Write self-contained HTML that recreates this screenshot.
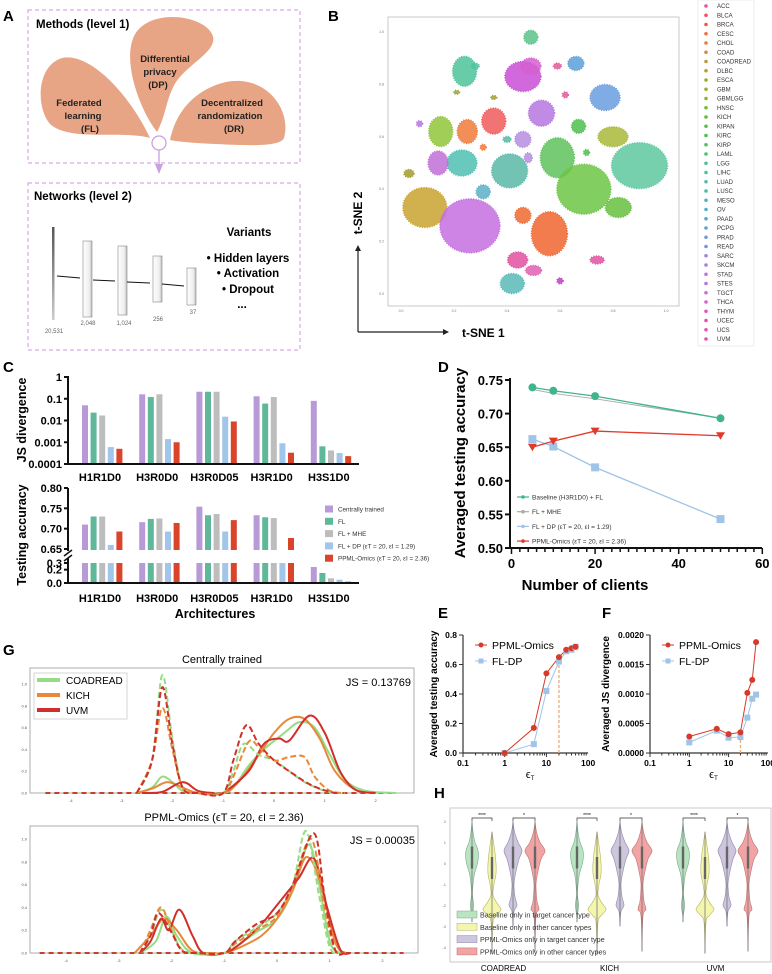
<!DOCTYPE html>
<html><head><meta charset="utf-8"><style>
html,body{margin:0;padding:0;background:#fff}
svg{display:block;font-family:"Liberation Sans",sans-serif}
.b{font-weight:bold}
</style></head><body>
<svg id="fig" width="772" height="974" viewBox="0 0 772 974" xmlns="http://www.w3.org/2000/svg">
<defs>
<linearGradient id="gbar" x1="0" x2="0" y1="0" y2="1"><stop offset="0" stop-color="#555"/><stop offset="1" stop-color="#ccc"/></linearGradient>
<linearGradient id="gblk" x1="0" x2="1"><stop offset="0" stop-color="#fff"/><stop offset="0.7" stop-color="#eee"/><stop offset="1" stop-color="#bbb"/></linearGradient>
</defs>
<!-- Panel A -->
<g>
<text x="3" y="21" class="b" font-size="15">A</text>
<rect x="28" y="10" width="272" height="153" fill="none" stroke="#d9a6e6" stroke-width="1.2" stroke-dasharray="4,3"/>
<rect x="28" y="183" width="272" height="167" fill="none" stroke="#d9a6e6" stroke-width="1.2" stroke-dasharray="4,3"/>
<text x="36" y="28" class="b" font-size="11.5">Methods (level 1)</text>
<path d="M150,138 C130,95 90,52 62,58 C36,66 36,108 50,124 C70,142 120,130 150,138Z" fill="#e8a585"/>
<path d="M157,132 C140,110 122,62 134,36 C148,8 202,14 212,34 C220,50 190,62 176,82 C166,98 166,116 157,132Z" fill="#e8a585"/>
<path d="M170,140 C175,115 192,90 226,82 C266,74 292,110 284,138 C280,148 240,145 215,144 C195,143 180,142 170,140Z" fill="#e8a585"/>
<g class="b" font-size="9.5" text-anchor="middle" fill="#222">
<text x="165" y="62"><tspan x="165">Differential</tspan><tspan x="160" dy="13">privacy</tspan><tspan x="158" dy="13">(DP)</tspan></text>
<text x="79" y="106"><tspan x="79">Federated</tspan><tspan x="83" dy="13">learning</tspan><tspan x="90" dy="13">(FL)</tspan></text>
<text x="232" y="106"><tspan x="232">Decentralized</tspan><tspan x="230" dy="13">randomization</tspan><tspan x="234" dy="13">(DR)</tspan></text>
</g>
<circle cx="159" cy="143" r="7" fill="#fff" stroke="#c9a0e0" stroke-width="1.3"/>
<line x1="159" y1="150" x2="159" y2="168" stroke="#c9a0e0" stroke-width="1.3"/>
<path d="M155,164 L159,174 L163,164Z" fill="#c9a0e0"/>
<text x="34" y="200" class="b" font-size="11.5">Networks (level 2)</text>
<rect x="52" y="227" width="2.5" height="93" fill="url(#gbar)"/>
<g stroke="#888" stroke-width="0.6" fill="url(#gblk)">
<rect x="83" y="241" width="9" height="76"/>
<rect x="118" y="246" width="9" height="69"/>
<rect x="153" y="256" width="9" height="46"/>
<rect x="187" y="268" width="9" height="37"/>
</g>
<g stroke="#111" stroke-width="1">
<line x1="57" y1="276" x2="80" y2="278"/>
<line x1="93" y1="280" x2="115" y2="281"/>
<line x1="127" y1="282" x2="150" y2="283"/>
<line x1="162" y1="284" x2="184" y2="286"/>
</g>
<g font-size="6" fill="#666" text-anchor="middle">
<text x="54" y="333">20,531</text>
<text x="88" y="325">2,048</text>
<text x="124" y="325">1,024</text>
<text x="158" y="321">256</text>
<text x="193" y="314">37</text>
</g>
<g class="b" font-size="11.5" text-anchor="middle">
<text x="249" y="236">Variants</text>
<text x="248" y="262">• Hidden layers</text>
<text x="248" y="277">• Activation</text>
<text x="248" y="293">• Dropout</text>
<text x="242" y="308">...</text>
</g>
</g>
<!-- static panel labels -->
<g class="b" font-size="15">
<text x="328" y="21">B</text>
<text x="3" y="372">C</text>
<text x="438" y="372">D</text>
<text x="438" y="618">E</text>
<text x="602" y="618">F</text>
<text x="3" y="655">G</text>
<text x="434" y="798">H</text>
</g>
</svg>
<script>
const NS='http://www.w3.org/2000/svg';
const svg=document.getElementById('fig');
function mk(tag,attrs,parent){const e=document.createElementNS(NS,tag);for(const k in attrs)e.setAttribute(k,attrs[k]);(parent||svg).appendChild(e);return e;}
function tx(x,y,s,attrs){const e=mk('text',Object.assign({x:x,y:y},attrs||{}));e.textContent=s;return e;}

/* ---------- Panel B data ---------- */
const tsneU=[0.49,0.24,0.28,0.46,0.49,0.59,0.66,0.77,0.21,0.35,0.62,0.53,0.35,0.15,0.25,0.07,0.67,0.46,0.31,0.59,0.80,0.90,0.41,0.23,0.14,0.48,0.70,0.69,0.03,0.09,0.26,0.46,0.56,0.82,0.31,0.44,0.50,0.42,0.60,0.74,0.40];
const tsneV=[0.98,0.85,0.87,0.83,0.87,0.87,0.88,0.75,0.77,0.75,0.76,0.69,0.66,0.62,0.62,0.65,0.64,0.59,0.56,0.52,0.60,0.49,0.47,0.50,0.50,0.52,0.54,0.40,0.46,0.33,0.26,0.30,0.23,0.33,0.39,0.13,0.09,0.04,0.05,0.13,0.59];
const tsneRx=[7,12,4,18,10,4,8,15,3,3,3,13,12,12,10,3,7,8,3,17,15,28,18,15,10,4,3,27,5,22,30,8,18,13,7,10,8,12,3,7,4];
const tsneRy=[7,15,3,15,8,3,7,13,2,2,3,13,13,15,12,3,7,8,3,20,10,23,17,13,12,5,3,25,4,20,27,8,22,10,7,8,5,10,3,4,3];
const tsneCol=['#5cc38a','#4fc39a','#4fc3a0','#c94fd6','#d55fcf','#e05a9a','#5aa0d8','#6a9de0','#9aa53a','#a0a030','#e05a9a','#b576e0','#f05a5a','#8fc63a','#f07a3a','#b576e0','#4fc050','#b58ee0','#f07a3a','#5ec25c','#a8b83a','#5ec8a0','#5ab8a8','#4fbfb0','#c070d8','#b58ee0','#4fc050','#6cc544','#a89a30','#c9a32e','#c46ee0','#f06a30','#f0652f','#66c040','#5ab0c8','#e050a0','#e060b0','#5ab8b8','#c040c0','#e050a0','#5ab8a8'];
const cancerTypes=['ACC','BLCA','BRCA','CESC','CHOL','COAD','COADREAD','DLBC','ESCA','GBM','GBMLGG','HNSC','KICH','KIPAN','KIRC','KIRP','LAML','LGG','LIHC','LUAD','LUSC','MESO','OV','PAAD','PCPG','PRAD','READ','SARC','SKCM','STAD','STES','TGCT','THCA','THYM','UCEC','UCS','UVM'];
const cancerCols=['#e8559a','#f0505a','#f05a48','#f0703a','#e8803a','#d08a40','#c09a38','#b0a030','#a0a830','#98b030','#88b830','#78bc30','#60c030','#50c040','#50c050','#50c060','#50c078','#50c090','#50c0a0','#50bcb0','#50b8b8','#50b4c0','#50b0c8','#50a8d0','#60a0d8','#7098e0','#8090e0','#9888e0','#a880e0','#b878e0','#c070e0','#d068d8','#d860d0','#e058c0','#e055b0','#e855a8','#e855a0'];
const bx=u=>401+265*u, by=v=>294-262*v;
mk('rect',{x:388,y:17,width:291,height:289,fill:'#fff',stroke:'#bbb','stroke-width':0.8});


for(let i=0;i<tsneU.length;i++){
  const e=mk('ellipse',{cx:bx(tsneU[i]),cy:by(tsneV[i]),rx:tsneRx[i],ry:tsneRy[i],fill:tsneCol[i],'fill-opacity':0.85,stroke:tsneCol[i],'stroke-width':1.5,'stroke-dasharray':'1,1.5'});
  
  
}
const tsneTicks=[0,0.2,0.4,0.6,0.8,1.0];
tsneTicks.forEach(t=>{
  const a=tx(bx(t),312,t.toFixed(1),{'font-size':3.5,'text-anchor':'middle',fill:'#777'});
  
  
  const b=tx(384,by(t)+1,t.toFixed(1),{'font-size':3.5,'text-anchor':'end',fill:'#777'});
  
  
});
let ar=mk('path',{d:'M358,332 L358,250 M358,332 L444,332',stroke:'#222','stroke-width':1.2,fill:'none'});


ar=mk('path',{d:'M355,251 L358,245 L361,251Z M443,329 L449,332 L443,335Z',fill:'#222'});


let t=tx(462,337,'t-SNE 1',{'font-size':12,'font-weight':'bold'});


t=tx(0,0,'t-SNE 2',{'font-size':12,'font-weight':'bold','text-anchor':'middle',transform:'translate(362,213) rotate(-90)'});


let lg=mk('rect',{x:698,y:0,width:56,height:346,fill:'#fff',stroke:'#eee'});


cancerTypes.forEach((c,i)=>{
  const y=6+i*9.25;
  const d=mk('circle',{cx:706,cy:y,r:1.8,fill:cancerCols[i]});
  
  
  const l=tx(717,y+2.2,c,{'font-size':6,fill:'#333'});
  
  
});

/* ---------- Panel C data ---------- */
const archs=['H1R1D0','H3R0D0','H3R0D05','H3R1D0','H3S1D0'];
const methodsC=['Centrally trained','FL','FL + MHE','FL + DP (ε','PPML-Omics (ε'];
const colsC=['#b99ad8','#5fb89a','#bdbdbd','#a2c6ea','#d9442b'];
const jsCentral=[0.05,0.16,0.21,0.13,0.08];
const jsFL=[0.023,0.12,0.21,0.06,0.00065];
const jsMHE=[0.017,0.16,0.21,0.12,0.00042];
const jsDP=[0.0006,0.0014,0.015,0.0009,0.00032];
const jsPPML=[0.0005,0.001,0.009,0.00033,0.00023];
const accCentral=[0.71,0.716,0.754,0.733,0.24];
const accFL=[0.73,0.724,0.733,0.728,0.15];
const accMHE=[0.73,0.725,0.736,0.726,0.07];
const accDP=[0.66,0.693,0.693,0.65,0.05];
const accPPML=[0.693,0.714,0.721,0.677,0.02];
const jsTicks=[1,0.1,0.01,0.001,0.0001];
const accTicksHi=[0.80,0.75,0.70,0.65];
const accTicksLo=[0.3,0.2,0.0];
const groupX=i=>100+i*57.2;
const barX=(g,k)=>groupX(g)-18+k*8.6;
const jsY=v=>464-(Math.log10(v)+4)*21.75;
const accHiY=v=>549-(v-0.65)/0.15*61;
const accLoY=v=>583-Math.min(v,0.3)/0.3*20;
const jsSeries=[jsCentral,jsFL,jsMHE,jsDP,jsPPML];
const accSeries=[accCentral,accFL,accMHE,accDP,accPPML];
for(let g=0;g<archs.length;g++){
  for(let k=0;k<5;k++){
    const v=jsSeries[k][g];
    const r=mk('rect',{x:barX(g,k),y:jsY(v),width:6,height:464-jsY(v),fill:colsC[k]});
    
    
    const a=accSeries[k][g];
    if(a>0.65){
      const r2=mk('rect',{x:barX(g,k),y:accHiY(a),width:6,height:550-accHiY(a),fill:colsC[k]});
      
      
    }
    const r3=mk('rect',{x:barX(g,k),y:accLoY(a),width:6,height:583-accLoY(a),fill:colsC[k]});
    
    
  }
  const l1=tx(groupX(g),481,archs[g],{'font-size':11,'font-weight':'bold','text-anchor':'middle'});
  
  
  const l2=tx(groupX(g),602,archs[g],{'font-size':11,'font-weight':'bold','text-anchor':'middle'});
  
  
}
let ax=mk('path',{d:'M68,376 L68,464 L359,464 M68,488 L68,551 M68,558 L68,583 L359,583',stroke:'#111','stroke-width':2,fill:'none'});


ax=mk('path',{d:'M64,556 L72,550 M64,561 L72,555',stroke:'#111','stroke-width':1.5});


jsTicks.forEach(v=>{
  const l=mk('line',{x1:64,x2:68,y1:jsY(v),y2:jsY(v),stroke:'#111','stroke-width':2});
  
  
  const s=tx(62,jsY(v)+4,String(v),{'font-size':11,'font-weight':'bold','text-anchor':'end'});
  
  
});
accTicksHi.forEach(v=>{
  const l=mk('line',{x1:64,x2:68,y1:accHiY(v),y2:accHiY(v),stroke:'#111','stroke-width':2});
  
  
  const s=tx(62,accHiY(v)+4,v.toFixed(2),{'font-size':11,'font-weight':'bold','text-anchor':'end'});
  
  
});
accTicksLo.forEach(v=>{
  const l=mk('line',{x1:64,x2:68,y1:accLoY(v),y2:accLoY(v),stroke:'#111','stroke-width':2});
  
  
  const s=tx(62,accLoY(v)+4,v.toFixed(1),{'font-size':11,'font-weight':'bold','text-anchor':'end'});
  
  
});
t=tx(0,0,'JS divergence',{'font-size':12.5,'font-weight':'bold','text-anchor':'middle',transform:'translate(26,420) rotate(-90)'});


t=tx(0,0,'Testing accuracy',{'font-size':12.5,'font-weight':'bold','text-anchor':'middle',transform:'translate(26,535) rotate(-90)'});


t=tx(215,618,'Architectures',{'font-size':12.5,'font-weight':'bold','text-anchor':'middle'});


const legC=['Centrally trained','FL','FL + MHE','FL + DP (εT = 20, εI = 1.29)','PPML-Omics (εT = 20, εI = 2.36)'];
legC.forEach((s,i)=>{
  const y=509+i*12.3;
  const r=mk('rect',{x:325,y:y-3.5,width:8,height:7,fill:colsC[i]});
  
  
  const l=tx(338,y+2.5,s,{'font-size':6.3,fill:'#333'});
  
  
});

/* ---------- Panel D data ---------- */
const clients=[5,10,20,50];
const dBaseline=[0.739,0.734,0.726,0.693];
const dMHE=[0.736,0.730,0.722,0.693];
const dDP=[0.662,0.651,0.620,0.543];
const dPPML=[0.650,0.659,0.674,0.667];
const dYTicks=[0.75,0.70,0.65,0.60,0.55,0.50];
const dXTicks=[0,20,40,60];
const dx=c=>511.5+c*4.18, dy=v=>548-(v-0.5)*672;
ax=mk('path',{d:'M510,378 L510,548 L762,548',stroke:'#111','stroke-width':2,fill:'none'});


for(let c=0;c<=60;c+=2){
  const l=mk('line',{x1:dx(c),x2:dx(c),y1:548,y2:c%20===0?554:552,stroke:'#111','stroke-width':1.5});
  
  
}
dXTicks.forEach(c=>{
  const s=tx(dx(c),568,String(c),{'font-size':13,'font-weight':'bold','text-anchor':'middle'});
  
  
});
dYTicks.forEach(v=>{
  const l=mk('line',{x1:505,x2:510,y1:dy(v),y2:dy(v),stroke:'#111','stroke-width':2});
  
  
  const s=tx(503,dy(v)+5,v.toFixed(2),{'font-size':13,'font-weight':'bold','text-anchor':'end'});
  
  
});
function polyline(xs,ys,fx,fy,col,w,name){
  const p=mk('polyline',{points:xs.map((x,i)=>fx(x)+','+fy(ys[i])).join(' '),fill:'none',stroke:col,'stroke-width':w});
  
  
}
polyline(clients,dMHE,dx,dy,'#aaa',1,'line-fl-mhe');
polyline(clients,dBaseline,dx,dy,'#3fb58a',1.3,'line-baseline-fl');
polyline(clients,dDP,dx,dy,'#9fc4e8',1.3,'line-fl-dp');
polyline(clients,dPPML,dx,dy,'#e03a2a',1.3,'line-ppml-omics');
clients.forEach((c,i)=>{
  let m=mk('circle',{cx:dx(c),cy:dy(dBaseline[i]),r:4,fill:'#3fb58a'});
  
  
  m=mk('rect',{x:dx(c)-4,y:dy(dDP[i])-4,width:8,height:8,fill:'#9fc4e8'});
  
  
  const X=dx(c),Y=dy(dPPML[i]);
  m=mk('path',{d:`M${X-4.5},${Y-3.5} L${X+4.5},${Y-3.5} L${X},${Y+4}Z`,fill:'#e03a2a'});
  
  
});
const legD=['Baseline (H3R1D0) + FL','FL + MHE','FL + DP (εT = 20, εI = 1.29)','PPML-Omics (εT = 20, εI = 2.36)'];
const legDCol=['#3fb58a','#aaa','#9fc4e8','#e03a2a'];
legD.forEach((s,i)=>{
  const y=497+i*14.7;
  const l=mk('line',{x1:517,x2:529,y1:y,y2:y,stroke:legDCol[i],'stroke-width':1.2});
  
  
  const c=mk('circle',{cx:523,cy:y,r:1.8,fill:legDCol[i]});
  
  
  const q=tx(532,y+2.5,s,{'font-size':6.5,fill:'#333'});
  
  
});
t=tx(0,0,'Averaged testing accuracy',{'font-size':15,'font-weight':'bold','text-anchor':'middle',transform:'translate(465,463) rotate(-90)'});


t=tx(585,590,'Number of clients',{'font-size':15,'font-weight':'bold','text-anchor':'middle'});



/* ---------- Panels E & F data ---------- */
const epsT=[1,5,10,20,30,40,50];
const eAccPPML=[0.0,0.17,0.54,0.65,0.70,0.71,0.72];
const eAccDP=[0.0,0.06,0.42,0.62,0.69,0.70,0.72];
const fJsPPML=[0.00028,0.00041,0.00032,0.00035,0.00102,0.00124,0.00188];
const fJsDP=[0.00018,0.00038,0.00026,0.00027,0.0006,0.00092,0.00099];
const eYTicks=[0.0,0.2,0.4,0.6,0.8];
const fYTicks=[0.0,0.0005,0.0010,0.0015,0.0020];
const logTicks=[0.1,1,10,100];
function logPanel(x0,dec,yfun,yTicks,yfmt,s1,s2,ytitle,pref,tx0){
  const X=e=>x0+(Math.log10(e)+1)*dec;
  const y0=yfun(0);
  const a=mk('path',{d:`M${x0},${yfun(yTicks[yTicks.length-1])} L${x0},${y0} L${X(100)},${y0}`,stroke:'#333','stroke-width':1.2,fill:'none'});
  
  
  for(let d=-1;d<2;d++)for(let m=1;m<10;m++){
    const xv=X(m*Math.pow(10,d));
    const l=mk('line',{x1:xv,x2:xv,y1:y0,y2:y0+(m===1?4:2.5),stroke:'#333','stroke-width':1});
    
    
  }
  logTicks.forEach(v=>{
    const s=tx(X(v),y0+13,String(v),{'font-size':8.5,'font-weight':'bold','text-anchor':'middle'});
    
    
  });
  yTicks.forEach(v=>{
    const l=mk('line',{x1:x0-4,x2:x0,y1:yfun(v),y2:yfun(v),stroke:'#333','stroke-width':1});
    
    
    const s=tx(x0-6,yfun(v)+3,yfmt(v),{'font-size':8.5,'font-weight':'bold','text-anchor':'end'});
    
    
  });
  const dl=mk('line',{x1:X(20),x2:X(20),y1:y0,y2:yfun(s1[3]),stroke:'#f0a878','stroke-width':1.3,'stroke-dasharray':'3,2'});
  
  
  polyline(epsT,s2,X,yfun,'#9fc4e8',1,pref+'-line-fl-dp');
  polyline(epsT,s1,X,yfun,'#d63a2a',1,pref+'-line-ppml');
  epsT.forEach((e,i)=>{
    let m=mk('rect',{x:X(e)-3,y:yfun(s2[i])-3,width:6,height:6,fill:'#9fc4e8'});
    
    
    m=mk('circle',{cx:X(e),cy:yfun(s1[i]),r:3,fill:'#d63a2a'});
    
    
  });
  const lx=x0+12, ly=yfun(yTicks[yTicks.length-1])+10;
  [['PPML-Omics','#d63a2a'],['FL-DP','#9fc4e8']].forEach((p,i)=>{
    const l=mk('line',{x1:lx,x2:lx+12,y1:ly+i*16,y2:ly+i*16,stroke:p[1],'stroke-width':1});
    
    
    const c=i===0?mk('circle',{cx:lx+6,cy:ly,r:2.5,fill:p[1]}):mk('rect',{x:lx+3.5,y:ly+16-2.5,width:5,height:5,fill:p[1]});
    
    
    const s=tx(lx+17,ly+4+i*16,p[0],{'font-size':10.5});
    
    
  });
  const ti=tx(0,0,ytitle,{'font-size':10,'font-weight':'bold','text-anchor':'middle',transform:`translate(${tx0},694) rotate(-90)`});
  
  
  const xt=tx(X(3.2),778,'ϵ',{'font-size':11});
  
  
  const xs=tx(X(3.2)+5,780,'T',{'font-size':6});
  
  
}
logPanel(463,41.7,v=>753-v*147.5,eYTicks,v=>v.toFixed(1),eAccPPML,eAccDP,'Averaged testing accuracy','e',437);
logPanel(650,39.3,v=>753-v*59000,fYTicks,v=>v.toFixed(4),fJsPPML,fJsDP,'Averaged JS divergence','f',609);

/* ---------- Panel G data ---------- */
const gTopCoadSolidX=[-2.7,-2.4,-2.2,-2.0,-1.8,-1.5,-1.0,-0.8,-0.5,-0.2,0.2,0.5,0.8,1.1,1.4,1.8,2.4];
const gTopCoadSolidY=[0,0.05,0.15,0.10,0.02,0,0,0.05,0.25,0.4,0.55,0.65,0.6,0.35,0.12,0.02,0];
const gTopCoadDashX=[-2.7,-2.4,-2.2,-2.0,-1.8,-1.5,-1.0,-0.8,-0.6,-0.3,0,0.3,0.6,1.0,1.3];
const gTopCoadDashY=[0,0.3,1.08,0.5,0.05,0,0,0.2,0.45,0.35,0.3,0.2,0.1,0.02,0];
const gTopKichSolidX=[-2.7,-2.4,-2.1,-1.8,-1.5,-1.0,-0.7,-0.3,0,0.3,0.6,0.9,1.2,1.6,2.0];
const gTopKichSolidY=[0,0.04,0.1,0.05,0,0,0.1,0.35,0.55,0.68,0.68,0.5,0.2,0.03,0];
const gTopKichDashX=[-2.7,-2.4,-2.2,-2.0,-1.8,-1.5,-1.0,-0.8,-0.5,-0.3,0,0.3,0.6,0.8,1.1,1.4];
const gTopKichDashY=[0,0.3,0.78,0.4,0.05,0,0,0.15,0.47,0.42,0.3,0.33,0.33,0.15,0.02,0];
const gTopUvmSolidX=[-2.6,-2.2,-1.8,-1.5,-1.2,-1.0,-0.5,-0.2,0.1,0.3,0.7,1.0,1.3,1.6,2.0];
const gTopUvmSolidY=[0,0.01,0.1,0.02,0,0,0.2,0.45,0.5,0.48,0.71,0.55,0.2,0.03,0];
const gTopUvmDashX=[-2.7,-2.4,-2.2,-2.0,-1.8,-1.5,-1.0,-0.8,-0.55,-0.3,0,0.3,0.7,1.1,1.3];
const gTopUvmDashY=[0,0.3,0.97,0.45,0.05,0,0,0.3,0.62,0.45,0.3,0.2,0.08,0.01,0];
const gBotCoadSolidX=[-2.6,-2.3,-2.1,-1.9,-1.6,-1.0,-0.8,-0.4,0,0.3,0.6,0.8,1.0,1.2];
const gBotCoadSolidY=[0,0.1,0.32,0.15,0,0,0.05,0.18,0.3,0.55,0.95,0.6,0.1,0];
const gBotCoadDashX=[-2.6,-2.4,-2.2,-2.0,-1.8,-1.5,-1.0,-0.8,-0.4,0,0.3,0.55,0.8,1.0,1.2];
const gBotCoadDashY=[0,0.15,0.38,0.2,0.03,0,0,0.1,0.22,0.35,0.6,1.07,0.5,0.05,0];
const gBotKichSolidX=[-2.7,-2.4,-2.15,-1.9,-1.6,-1.2,-1.0,-0.7,-0.3,0,0.3,0.55,0.8,1.1,1.3];
const gBotKichSolidY=[0,0.15,0.3,0.2,0.02,0,0,0.05,0.15,0.3,0.55,0.84,0.65,0.1,0];
const gBotKichDashX=[-2.6,-2.4,-2.2,-2.0,-1.8,-1.5,-1.0,-0.8,-0.4,0,0.3,0.65,0.9,1.1,1.3];
const gBotKichDashY=[0,0.2,0.4,0.2,0.02,0,0,0.08,0.2,0.32,0.6,1.0,0.4,0.03,0];
const gBotUvmSolidX=[-2.6,-2.4,-2.2,-2.05,-1.85,-1.6,-1.4,-1.0,-0.7,-0.3,0,0.4,0.7,0.95,1.2,1.4];
const gBotUvmSolidY=[0,0.1,0.3,0.2,0.38,0.15,0,0,0.08,0.25,0.42,0.65,0.83,0.4,0.03,0];
const gBotUvmDashX=[-2.6,-2.4,-2.25,-2.0,-1.8,-1.5,-1.0,-0.8,-0.4,0,0.3,0.7,0.9,1.1,1.3];
const gBotUvmDashY=[0,0.15,0.35,0.18,0.02,0,0,0.1,0.25,0.35,0.6,1.05,0.5,0.03,0];
const gXTicks=[-4,-3,-2,-1,0,1,2];
const gYTicks=[0,0.2,0.4,0.6,0.8,1.0];
const gCols={coad:'#96dc84',kich:'#e8883a',uvm:'#d12f2a'};
function smooth(pts){
  let d='M'+pts[0][0]+','+pts[0][1];
  for(let i=0;i<pts.length-1;i++){
    const p0=pts[Math.max(0,i-1)],p1=pts[i],p2=pts[i+1],p3=pts[Math.min(pts.length-1,i+2)];
    const c1x=p1[0]+(p2[0]-p0[0])/6, c1y=Math.min(p1[1]+(p2[1]-p0[1])/6, 1e9);
    const c2x=p2[0]-(p3[0]-p1[0])/6, c2y=p2[1]-(p3[1]-p1[1])/6;
    d+=` C${c1x.toFixed(1)},${c1y.toFixed(1)} ${c2x.toFixed(1)},${c2y.toFixed(1)} ${p2[0].toFixed(1)},${p2[1].toFixed(1)}`;
  }
  return d;
}
function kdePanel(box,X,Y,series,title,js,pref){
  const f=mk('rect',{x:box[0],y:box[1],width:box[2]-box[0],height:box[3]-box[1],fill:'#fff',stroke:'#999','stroke-width':0.8});
  
  
  gXTicks.forEach(v=>{
    const s=tx(X(v),box[3]+9,String(v),{'font-size':4,'text-anchor':'middle',fill:'#555'});
    
    
  });
  gYTicks.forEach(v=>{
    const s=tx(box[0]-3,Y(v)+1.5,v.toFixed(1),{'font-size':4,'text-anchor':'end',fill:'#555'});
    
    
  });
  const base=mk('line',{x1:X(-4.5),x2:X(2.4),y1:Y(0),y2:Y(0),stroke:'#c8402a','stroke-width':2,'stroke-dasharray':'5,4'});
  
  
  series.forEach(s=>{
    const pts=s[0].map((x,i)=>[X(x),Y(s[1][i])]);
    const p=mk('path',{d:smooth(pts),fill:'none',stroke:s[2],'stroke-width':2,'stroke-dasharray':s[3]?'6,3':'none'});
    
    
  });
  const ti=tx((box[0]+box[2])/2,box[1]-5,title,{'font-size':11,'text-anchor':'middle'});
  
  
  const j=tx(box[2]-3,box[1]+18,js,{'font-size':11,'text-anchor':'end'});
  
  
}
kdePanel([30,668,414,793],v=>274+v*50.8,v=>793-v*109,[
 [gTopCoadSolidX,gTopCoadSolidY,gCols.coad,false,'coadread-solid'],
 [gTopKichSolidX,gTopKichSolidY,gCols.kich,false,'kich-solid'],
 [gTopUvmSolidX,gTopUvmSolidY,gCols.uvm,false,'uvm-solid'],
 [gTopCoadDashX,gTopCoadDashY,gCols.coad,true,'coadread-dashed'],
 [gTopKichDashX,gTopKichDashY,gCols.kich,true,'kich-dashed'],
 [gTopUvmDashX,gTopUvmDashY,gCols.uvm,true,'uvm-dashed']],'Centrally trained','JS = 0.13769','g-top');
kdePanel([30,826,418,953],v=>277+v*52.75,v=>953-v*114,[
 [gBotCoadSolidX,gBotCoadSolidY,gCols.coad,false,'coadread-solid'],
 [gBotKichSolidX,gBotKichSolidY,gCols.kich,false,'kich-solid'],
 [gBotUvmSolidX,gBotUvmSolidY,gCols.uvm,false,'uvm-solid'],
 [gBotCoadDashX,gBotCoadDashY,gCols.coad,true,'coadread-dashed'],
 [gBotKichDashX,gBotKichDashY,gCols.kich,true,'kich-dashed'],
 [gBotUvmDashX,gBotUvmDashY,gCols.uvm,true,'uvm-dashed']],'PPML-Omics (ϵT = 20, ϵI = 2.36)','JS = 0.00035','g-bottom');
const gLeg=mk('rect',{x:34,y:673,width:93,height:46,fill:'#fff','fill-opacity':0.9,stroke:'#ccc','stroke-width':0.8});


[['COADREAD',gCols.coad],['KICH',gCols.kich],['UVM',gCols.uvm]].forEach((p,i)=>{
  const y=680+i*15;
  const l=mk('line',{x1:37,x2:60,y1:y,y2:y,stroke:p[1],'stroke-width':4});
  
  
  const s=tx(66,y+4,p[0],{'font-size':10});
  
  
});

/* ---------- Panel H data ---------- */
const hGroups=['COADREAD','KICH','UVM'];
const hPos=[[472,492,513,535],[577,597,620,642],[683,705,727,748]];
const violinGreenV=[2,1.5,1,0.7,0.4,0,-0.5,-1,-1.5,-1.9,-2.1,-2.5,-2.8];
const violinGreenW=[0,1,3,5.5,6.5,5.5,2.5,1,0.5,1.5,1.5,0.3,0];
const violinYellowV=[1.5,1,0.5,0,-0.5,-1,-1.5,-1.9,-2.2,-2.5,-2.8,-4.3];
const violinYellowW=[0,1.5,3,4,4,2,1,5,9,4,1,0];
const violinPurpleV=[2,1.5,1,0.6,0.2,-0.5,-1,-1.6,-2,-2.3,-3];
const violinPurpleW=[0,1.5,5,9,6,2.5,1,2,4,1,0];
const violinRedV=[2,1.5,1,0.6,0.2,-0.5,-1,-1.8,-2.2,-2.5,-4.2];
const violinRedW=[0,1.5,5,10,6,2.5,1,2,4,1,0];
const hYTicks=[2,1,0,-1,-2,-3,-4];
const hy=v=>863.3-21*v;
const hFill=['#b8e4c2','#f3f6ad','#cdc6de','#f2a3a3'];
const hStroke=['#7aa88a','#b8b060','#8e88a8','#c07070'];
const hShapes=[[violinGreenV,violinGreenW],[violinYellowV,violinYellowW],[violinPurpleV,violinPurpleW],[violinRedV,violinRedW]];
const hf=mk('rect',{x:450,y:808,width:321,height:154,fill:'#fff',stroke:'#bbb','stroke-width':0.8});


hYTicks.forEach(v=>{
  const s=tx(446,hy(v)+1.5,String(v),{'font-size':4,'text-anchor':'end',fill:'#777'});
  
  
});
hGroups.forEach((g,gi)=>{
  hPos[gi].forEach((cx,k)=>{
    const V=hShapes[k][0],W=hShapes[k][1];
    const right=V.map((v,i)=>[cx+W[i],hy(v)]);
    const left=V.map((v,i)=>[cx-W[i],hy(v)]).reverse();
    const d=smooth(right)+' L'+smooth(left).slice(1)+'Z';
    const p=mk('path',{d:d,fill:hFill[k],stroke:hStroke[k],'stroke-width':0.6});
    
    
    const ln=mk('line',{x1:cx,x2:cx,y1:hy(V[0]),y2:hy(V[V.length-1]),stroke:'#777','stroke-width':0.8});
    
    
    const bxp=mk('rect',{x:cx-1.2,y:hy(k===1?0.3:0.8),width:2.4,height:22,fill:'#666'});
    
    
  });
  [[0,1,'****'],[2,3,'*']].forEach(b=>{
    const x1=hPos[gi][b[0]],x2=hPos[gi][b[1]];
    const br=mk('path',{d:`M${x1},821 L${x1},818 L${x2},818 L${x2},821`,fill:'none',stroke:'#333','stroke-width':0.7});
    
    
    const st=tx((x1+x2)/2,817,b[2],{'font-size':5,'text-anchor':'middle'});
    
    
  });
  const lab=tx((hPos[gi][0]+hPos[gi][3])/2,971,g,{'font-size':8,'text-anchor':'middle'});
  
  
});
const hLeg=['Baseline only in target cancer type','Baseline only in other cancer types','PPML-Omics only in target cancer type','PPML-Omics only in other cancer types'];
hLeg.forEach((s,i)=>{
  const y=915+i*12.3;
  const r=mk('rect',{x:457,y:y-4,width:20,height:7,fill:hFill[i],stroke:hStroke[i],'stroke-width':0.5});
  
  
  const l=tx(480,y+2.5,s,{'font-size':7.2,fill:'#333'});
  
  
});
</script>
</body></html>
